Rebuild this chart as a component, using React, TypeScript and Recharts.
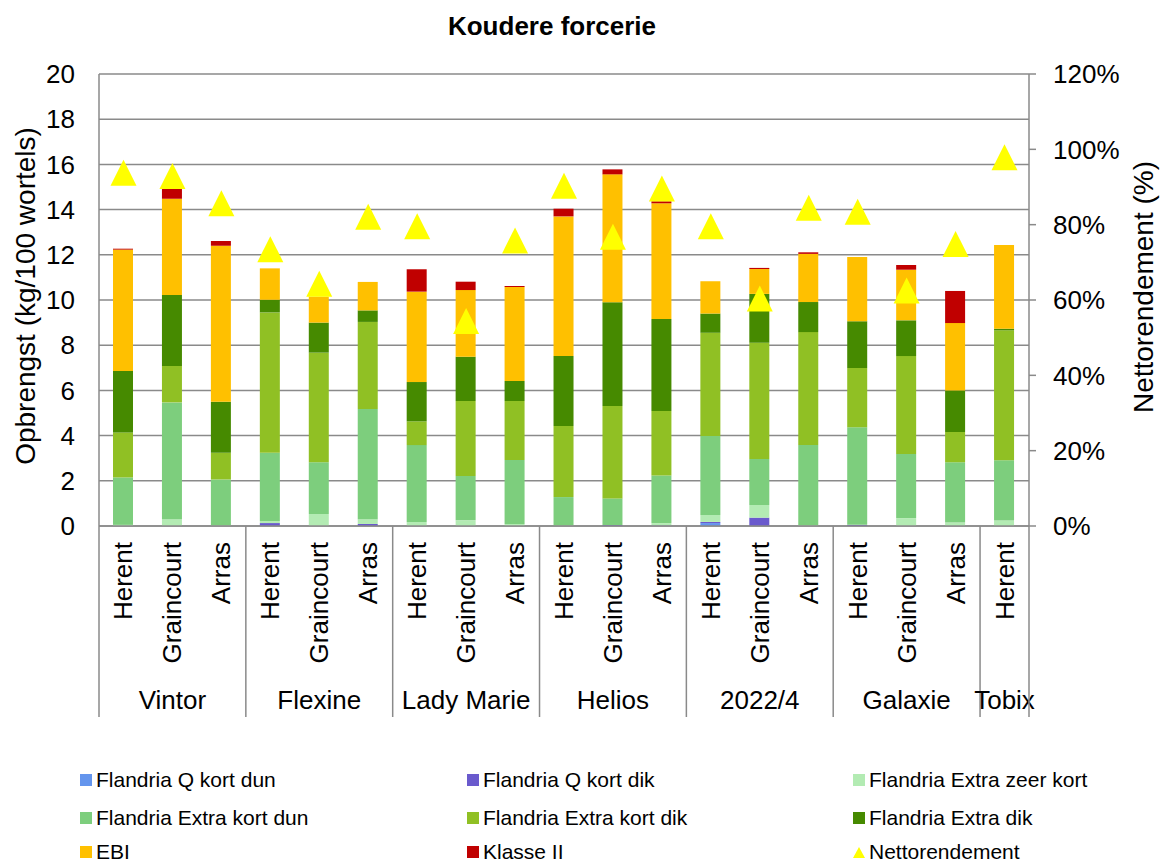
import { ComposedChart, Bar, Line, XAxis, YAxis, CartesianGrid } from 'recharts';

const FONT = '"Liberation Sans", Arial, sans-serif';

const varieties = [
  'Vintor', 'Vintor', 'Vintor',
  'Flexine', 'Flexine', 'Flexine',
  'Lady Marie', 'Lady Marie', 'Lady Marie',
  'Helios', 'Helios', 'Helios',
  '2022/4', '2022/4', '2022/4',
  'Galaxie', 'Galaxie', 'Galaxie',
  'Tobix',
];
const locations = [
  'Herent', 'Graincourt', 'Arras',
  'Herent', 'Graincourt', 'Arras',
  'Herent', 'Graincourt', 'Arras',
  'Herent', 'Graincourt', 'Arras',
  'Herent', 'Graincourt', 'Arras',
  'Herent', 'Graincourt', 'Arras',
  'Herent',
];

// kg/100 wortels per class
const qKortDun = [0, 0, 0, 0, 0, 0, 0, 0, 0, 0, 0, 0, 0.13, 0, 0, 0, 0, 0, 0];
const qKortDik = [0, 0, 0, 0.13, 0, 0.09, 0, 0, 0, 0, 0.04, 0.02, 0.05, 0.37, 0, 0.05, 0, 0, 0];
const extraZeerKort = [0.05, 0.3, 0.03, 0.09, 0.53, 0.21, 0.18, 0.25, 0.09, 0.02, 0, 0.11, 0.31, 0.56, 0.03, 0, 0.35, 0.15, 0.24];
const extraKortDun = [2.1, 5.17, 2.03, 3.02, 2.29, 4.88, 3.4, 1.96, 2.83, 1.26, 1.18, 2.11, 3.49, 2.03, 3.55, 4.32, 2.84, 2.67, 2.67];
const extraKortDik = [1.99, 1.61, 1.18, 6.21, 4.85, 3.85, 1.05, 3.32, 2.61, 3.14, 4.09, 2.85, 4.57, 5.15, 5.0, 2.62, 4.33, 1.34, 5.75];
const extraDik = [2.72, 3.14, 2.26, 0.56, 1.33, 0.51, 1.74, 1.96, 0.89, 3.1, 4.59, 4.07, 0.85, 2.16, 1.33, 2.07, 1.58, 1.84, 0.07];
const ebi = [5.37, 4.26, 6.9, 1.39, 1.15, 1.26, 4.0, 2.95, 4.16, 6.18, 5.66, 5.12, 1.43, 1.1, 2.13, 2.84, 2.24, 2.98, 3.7];
const klasseII = [0.04, 0.45, 0.21, 0, 0, 0, 0.99, 0.37, 0.04, 0.34, 0.22, 0.09, 0, 0.05, 0.07, 0, 0.21, 1.42, 0];

// %
const nettorendement = [93.8, 92.9, 85.7, 73.5, 64.3, 82.1, 79.6, 54.4, 75.8, 90.3, 76.8, 89.6, 79.6, 60.4, 84.5, 83.4, 62.5, 74.9, 97.9];

const leftTicks = [0, 2, 4, 6, 8, 10, 12, 14, 16, 18, 20];
const rightTicks = [0, 20, 40, 60, 80, 100, 120];

const series = [
  { key: 'qKortDun', name: 'Flandria Q kort dun', color: '#6495ed', values: qKortDun },
  { key: 'qKortDik', name: 'Flandria Q kort dik', color: '#6a5acd', values: qKortDik },
  { key: 'extraZeerKort', name: 'Flandria Extra zeer kort', color: '#b3ebb3', values: extraZeerKort },
  { key: 'extraKortDun', name: 'Flandria Extra kort dun', color: '#7dce7d', values: extraKortDun },
  { key: 'extraKortDik', name: 'Flandria Extra kort dik', color: '#90c024', values: extraKortDik },
  { key: 'extraDik', name: 'Flandria Extra dik', color: '#468a00', values: extraDik },
  { key: 'ebi', name: 'EBI', color: '#ffc000', values: ebi },
  { key: 'klasseII', name: 'Klasse II', color: '#c00000', values: klasseII },
];

const data = locations.map((loc, i) => {
  const row: any = { id: `${varieties[i]}|${loc}|${i}`, loc, variety: varieties[i], netto: nettorendement[i] };
  series.forEach((s) => {
    row[s.key] = s.values[i];
  });
  return row;
});

const WIDTH = 1161;
const HEIGHT = 863;
const LEFT_W = 99;
const RIGHT_W = 132;
const BAND = (WIDTH - LEFT_W - RIGHT_W) / data.length;
const GRID = '#8a8a8a';

const CategoryTick = (props: any) => {
  const { x, y, index } = props;
  const row = data[index];
  if (!row) return null;
  const first = varieties.indexOf(row.variety);
  const last = varieties.lastIndexOf(row.variety);
  const top = y - 16;
  return (
    <g>
      <text
        x={x}
        y={y}
        transform={`rotate(-90, ${x}, ${y})`}
        textAnchor="end"
        dominantBaseline="central"
        fontSize={26}
        fill="#000"
        style={{ fontFamily: FONT }}
      >
        {row.loc}
      </text>
      {index === first && (
        <>
          <line x1={x - BAND / 2} x2={x - BAND / 2} y1={top} y2={top + 191} stroke={GRID} strokeWidth={1.5} />
          <text
            x={x + ((first + last) / 2 - index) * BAND}
            y={top + 183}
            textAnchor="middle"
            fontSize={26}
            fill="#000"
            style={{ fontFamily: FONT }}
          >
            {row.variety}
          </text>
        </>
      )}
      {index === data.length - 1 && (
        <line x1={x + BAND / 2} x2={x + BAND / 2} y1={top} y2={top + 191} stroke={GRID} strokeWidth={1.5} />
      )}
    </g>
  );
};

const TriangleDot = (props: any) => {
  const { cx, cy, index } = props;
  if (cx == null || cy == null) return null;
  const h = 13;
  return <path key={index} d={`M${cx},${cy - h} L${cx + h},${cy + h} L${cx - h},${cy + h} Z`} fill="#ffff00" />;
};

const legendItems = [
  ...series.map((s) => ({ name: s.name, color: s.color, triangle: false })),
  { name: 'Nettorendement', color: '#ffff00', triangle: true },
];
const legendCols = [80, 467, 853];
const legendRows = [780, 818, 852];

export default function App() {
  return (
    <div style={{ position: 'absolute', left: 0, top: 0, width: WIDTH, height: HEIGHT, fontFamily: FONT, background: '#fff', overflow: 'hidden' }}>
      <div
        style={{
          position: 'absolute',
          left: 0,
          top: 13,
          width: 1104,
          textAlign: 'center',
          fontSize: 26,
          lineHeight: '26px',
          fontWeight: 'bold',
          color: '#000',
        }}
      >
        Koudere forcerie
      </div>

      <ComposedChart width={WIDTH} height={HEIGHT} data={data} margin={{ top: 74, right: 0, bottom: 0, left: 0 }}>
        <CartesianGrid yAxisId="left" vertical={false} stroke={GRID} strokeWidth={1.5} />
        <XAxis
          dataKey="id"
          height={HEIGHT - 526}
          interval={0}
          tickLine={false}
          tickSize={0}
          tickMargin={16}
          axisLine={{ stroke: GRID, strokeWidth: 1.5 }}
          tick={<CategoryTick />}
        />
        <YAxis
          yAxisId="left"
          width={LEFT_W}
          domain={[0, 20]}
          ticks={leftTicks}
          interval={0}
          tickLine={false}
          tickSize={0}
          tickMargin={24}
          axisLine={{ stroke: GRID, strokeWidth: 1.5 }}
          tick={{ fontSize: 26, fill: '#000', fontFamily: FONT }}
          label={{
            content: (p: any) => {
              const vb = p.viewBox;
              const cx = vb.x + 25;
              const cy = vb.y + vb.height / 2 - 4;
              return (
                <text
                  x={cx}
                  y={cy}
                  transform={`rotate(-90, ${cx}, ${cy})`}
                  textAnchor="middle"
                  dominantBaseline="central"
                  fontSize={28}
                  fill="#000"
                  style={{ fontFamily: FONT }}
                >
                  Opbrengst (kg/100 wortels)
                </text>
              );
            },
          }}
        />
        <YAxis
          yAxisId="right"
          orientation="right"
          width={RIGHT_W}
          domain={[0, 120]}
          ticks={rightTicks}
          interval={0}
          tickSize={7}
          tickMargin={17}
          tickLine={{ stroke: GRID, strokeWidth: 1.5 }}
          axisLine={{ stroke: GRID, strokeWidth: 1.5 }}
          tickFormatter={(v: number) => `${v}%`}
          tick={{ fontSize: 26, fill: '#000', fontFamily: FONT, textAnchor: 'start' }}
          label={{
            content: (p: any) => {
              const vb = p.viewBox;
              const cx = vb.x + 114;
              const cy = vb.y + vb.height / 2 - 13;
              return (
                <text
                  x={cx}
                  y={cy}
                  transform={`rotate(-90, ${cx}, ${cy})`}
                  textAnchor="middle"
                  dominantBaseline="central"
                  fontSize={28}
                  fill="#000"
                  style={{ fontFamily: FONT }}
                >
                  Nettorendement (%)
                </text>
              );
            },
          }}
        />
        {series.map((s) => (
          <Bar
            key={s.key}
            yAxisId="left"
            dataKey={s.key}
            name={s.name}
            stackId="a"
            fill={s.color}
            barSize={20}
            isAnimationActive={false}
          />
        ))}
        <Line
          yAxisId="right"
          dataKey="netto"
          name="Nettorendement"
          stroke="none"
          strokeWidth={0}
          dot={<TriangleDot />}
          activeDot={false}
          isAnimationActive={false}
        />
      </ComposedChart>

      {legendItems.map((item, i) => {
        const col = legendCols[i % 3];
        const row = legendRows[Math.floor(i / 3)];
        return (
          <div
            key={item.name}
            style={{
              position: 'absolute',
              left: col,
              top: row - 11,
              height: 22,
              lineHeight: '22px',
              display: 'flex',
              alignItems: 'center',
              fontSize: 21,
              color: '#000',
              whiteSpace: 'nowrap',
            }}
          >
            {item.triangle ? (
              <svg width={12} height={12} style={{ marginRight: 4 }}>
                <path d="M6,1 L12,12 L0,12 Z" fill={item.color} />
              </svg>
            ) : (
              <span style={{ width: 12, height: 12, background: item.color, marginRight: 4, display: 'inline-block' }} />
            )}
            {item.name}
          </div>
        );
      })}
    </div>
  );
}
